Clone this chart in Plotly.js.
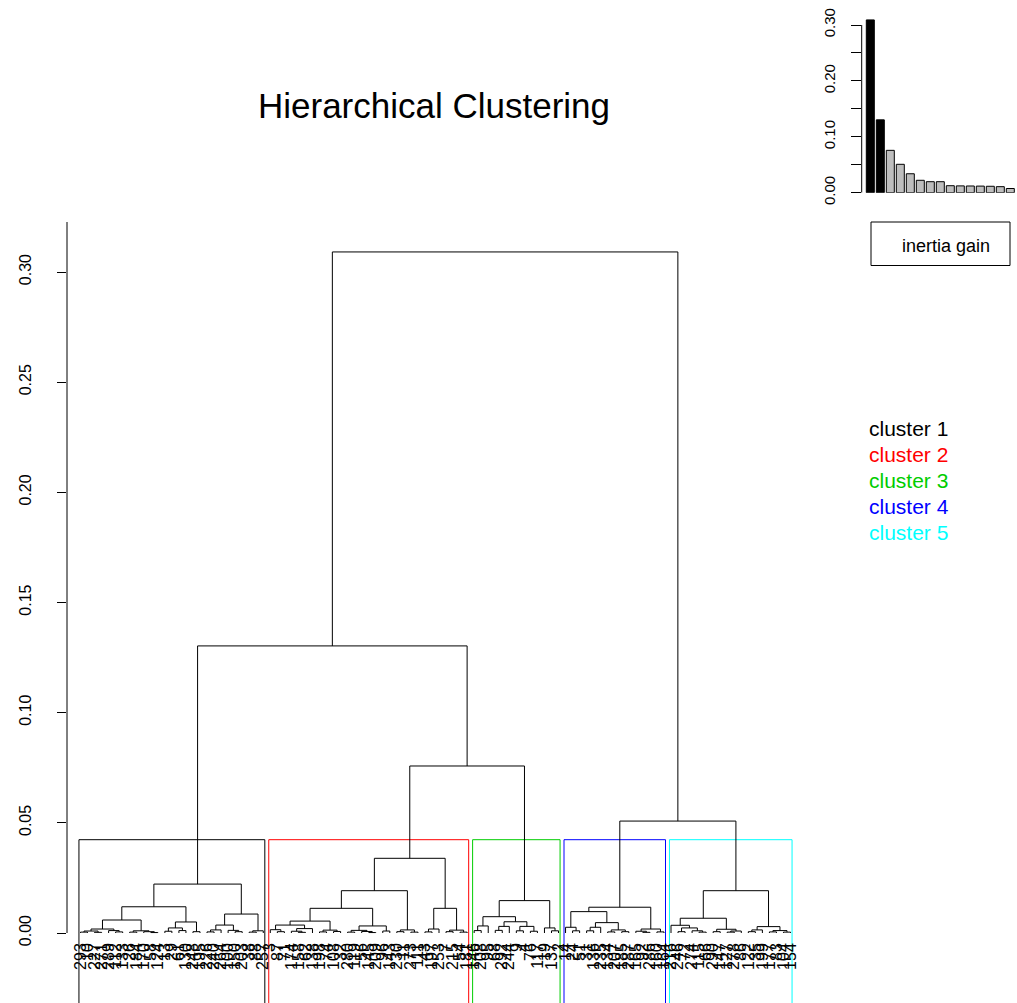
<!DOCTYPE html>
<html><head><meta charset="utf-8">
<script src="https://cdn.plot.ly/plotly-3.0.1.min.js"></script>
<style>html,body{margin:0;padding:0;background:#fff}</style>
</head><body><div id="chart" style="width:1017px;height:1003px"></div>
<script>
// ---------------- DATA ----------------
// node = [mergeHeight, leftChild, rightChild]; leaf = label string
const cluster1Tree = [0.0222,
  [0.0119,
    [0.0059,
      [0.0018, [0.0009, [0.0004,'293','10'], [0.0003,'227','271']], [0.0011,'289',[0.0005,'112','133']]],
      [0.0010, [0.0004,'26','184'], [0.0006,'170',[0.0002,'58','124']]]
    ],
    [0.0050,
      [0.0023, [0.0008,'13','29'], [0.0011,'61','130']],
      [0.0006,'248','195']
    ]
  ],
  [0.0086,
    [0.0036,
      [0.0014, [0.0005,'226','240'], '264'],
      [0.0012, '100', [0.0006,'150','203']]
    ],
    [0.0010, [0.0004,'38','88'], '257']
  ]
];
const cluster2Tree = [0.0339,
  [0.0192,
    [0.0112,
      [0.0054,
        [0.0036, [0.0015,'3',[0.0006,'87','71']], [0.0020,[0.0008,'174',[0.0003,'158','62']],'138']],
        [0.0013, [0.0005,'198','74'], [0.0007,'108','32']]
      ],
      [0.0032, [0.0012,[0.0004,'280','119'],[0.0007,'56',[0.0002,'145','209']]], [0.0009,'96','143']]
    ],
    [0.0014, [0.0006,'230','11'], [0.0004,'273','111']]
  ],
  [0.0112, [0.0018,[0.0005,'43','197'],'253'], [0.0013,[0.0006,'7','215'],[0.0004,'54','181']]]
];
const cluster3Tree = [0.0147,
  [0.0074,
    [0.0032, [0.0011,'146','208'], '95'],
    [0.0051,
      [0.0030, [0.0012,'68','292'], '244'],
      [0.0030, [0.0010,'9','4'], [0.0008,'76','117']]
    ]
  ],
  [0.0023, '19', [0.0010,'137','2']]
];
const cluster4Tree = [0.0117,
  [0.0097,
    [0.0026, '14', [0.0010,'24','51']],
    [0.0047,
      [0.0026, [0.0010,'31','136'], '235'],
      [0.0014, [0.0005,'134','207'], [0.0006,'185','287']]
    ]
  ],
  [0.0018, [0.0008,'165',[0.0003,'92','286']], [0.0005,'160','164']]
];
const cluster5Tree = [0.0192,
  [0.0067,
    [0.0035, '216', [0.0023,[0.0006,'246','72'],[0.0010,'274',[0.0004,'115','66']]]],
    [0.0017, [0.0006,'290','147'], [0.0009,[0.0004,'127','278'],'86']]
  ],
  [0.0029,
    [0.0014, [0.0006,'122','35'], '199'],
    [0.0011, [0.0005,'177','83'], [0.0004,'104','154']]
  ]
];
// upper part of the tree: numbers refer to the clusters (0..4)
const upperTree = [0.3091, [0.1303, 0, [0.0758, 1, 2]], [0.0508, 3, 4]];

const clusterNames  = ['cluster 1','cluster 2','cluster 3','cluster 4','cluster 5'];
const clusterColors = ['#000000','#FF0000','#00CD00','#0000FF','#00FFFF'];

const inertiaGain = [0.3091,0.1303,0.0758,0.0508,0.0339,0.0222,0.0197,0.0197,0.0125,0.0122,0.0120,0.0118,0.0115,0.0108,0.0075];
const nBlackBars = 2;

const yTickVals = [0,0.05,0.10,0.15,0.20,0.25,0.30];
const yTickText = ['0.00','0.05','0.10','0.15','0.20','0.25','0.30'];
const insetTickText = ['0.00','','0.10','','0.20','','0.30'];

// ---------------- BUILD DENDROGRAM ----------------
const clusterTrees = [cluster1Tree, cluster2Tree, cluster3Tree, cluster4Tree, cluster5Tree];
const leafLabels = [];
const segX = [], segY = [];
const clusterRange = [];
const allHeights = [];

function place(node) {
  if (typeof node === 'string') { leafLabels.push(node); return {x: leafLabels.length, h: 0}; }
  if (typeof node === 'number') {
    const first = leafLabels.length + 1;
    const r = place(clusterTrees[node]);
    clusterRange[node] = [first, leafLabels.length];
    return r;
  }
  const h = node[0];
  allHeights.push(h);
  const a = place(node[1]), b = place(node[2]);
  segX.push(a.x, a.x, b.x, b.x, null);
  segY.push(a.h, h, h, b.h, null);
  return {x: (a.x + b.x) / 2, h: h};
}
place(upperTree);
const N = leafLabels.length;
const k = clusterTrees.length;
const sortedH = allHeights.slice().sort((p, q) => q - p);
const cutHeight = (sortedH[k - 2] + sortedH[k - 1]) / 2;

// ---------------- GEOMETRY (pixels -> paper) ----------------
const W = 1017, H = 1003;
const px = v => v / W, py = v => 1 - v / H;
const axisX = 67, leaf1Px = 80.5, leafNPx = 790.5, plotRightPx = 800;
const unit = (leafNPx - leaf1Px) / (N - 1);
const xMin = 1 - (leaf1Px - axisX) / unit;
const xMax = N + (plotRightPx - leafNPx) / unit;
const zeroPx = 933, topPx = 222;
const yPerPx = 0.30 / (933 - 272);
const yMax = (zeroPx - topPx) * yPerPx;
const yMin = -(H - zeroPx) * yPerPx;

// inset
const insAxisPx = 861.7, insZeroPx = 192.7, ins30Px = 25.0;
const insYMax = 0.30 / (insZeroPx - ins30Px) * insZeroPx;
const insXMin = 1 - (870.3 - insAxisPx) / 10;
const insXMax = insXMin + (W - insAxisPx) / 10;

const font = 'Liberation Sans, Arial, sans-serif';

const traces = [
  {type:'scatter', mode:'lines', x: segX, y: segY, xaxis:'x', yaxis:'y',
   line:{color:'#000', width:1}, hoverinfo:'skip', cliponaxis:false},
  {type:'bar', x: inertiaGain.map((_, i) => i + 1), y: inertiaGain, xaxis:'x2', yaxis:'y2',
   width: 0.8,
   marker:{color: inertiaGain.map((_, i) => i < nBlackBars ? '#000000' : '#BEBEBE'),
           line:{color:'#000', width:1}}, hoverinfo:'skip'}
];

const shapes = [];
clusterRange.forEach((r, i) => {
  shapes.push({type:'rect', xref:'x', yref:'y', x0: r[0] - 0.22, x1: r[1] + 0.22,
    y0: yMin - 0.01, y1: cutHeight, line:{color: clusterColors[i], width:1}, layer:'below'});
});
shapes.push({type:'line', xref:'paper', yref:'y', x0: px(axisX), x1: px(axisX), y0: 0, y1: yMax,
  line:{color:'#000', width:1}});
shapes.push({type:'line', xref:'paper', yref:'y2', x0: px(insAxisPx), x1: px(insAxisPx), y0: 0, y1: 0.30,
  line:{color:'#000', width:1}});
shapes.push({type:'rect', xref:'paper', yref:'paper', x0: px(871), x1: px(1010), y0: py(265.5), y1: py(222),
  line:{color:'#000', width:1}});

const annotations = [
  {text:'inertia gain', xref:'paper', yref:'paper', x: px(946), y: py(246), xanchor:'center', yanchor:'middle',
   showarrow:false, font:{family:font, size:18, color:'#000'}}
];
clusterNames.forEach((n, i) => {
  annotations.push({text: n, xref:'paper', yref:'paper', x: px(867), y: py(428 + 26 * i),
    xanchor:'left', yanchor:'middle', showarrow:false, font:{family:font, size:21, color: clusterColors[i]}});
});

const layout = {
  width: W, height: H, margin:{l:0, r:0, t:0, b:0},
  paper_bgcolor:'#fff', plot_bgcolor:'rgba(0,0,0,0)', showlegend:false,
  title:{text:'Hierarchical Clustering', x: px(434), y: py(106), xref:'paper', yref:'paper',
         xanchor:'center', yanchor:'middle', font:{family:font, size:35, color:'#000'}},
  font:{family:font, color:'#000'},
  xaxis:{domain:[px(axisX), px(plotRightPx)], range:[xMin, xMax], anchor:'free', position: py(zeroPx + 6),
         tickmode:'array', tickvals: leafLabels.map((_, i) => i + 1), ticktext: leafLabels,
         tickangle:-90, ticks:'', showline:false, showgrid:false, zeroline:false,
         tickfont:{family:font, size:16, color:'#000'}},
  yaxis:{domain:[0, py(topPx)], range:[yMin, yMax], anchor:'x',
         tickmode:'array', tickvals: yTickVals, ticktext: yTickText, tickangle:-90,
         ticks:'outside', ticklen:9, tickcolor:'#000', tickwidth:1,
         showline:false, showgrid:false, zeroline:false, ticklabelstandoff: 20,
         tickfont:{family:font, size:16, color:'#000'}},
  xaxis2:{domain:[px(insAxisPx), 1], range:[insXMin, insXMax], anchor:'y2', visible:false},
  yaxis2:{domain:[py(insZeroPx), 1], range:[0, insYMax], anchor:'x2',
          tickmode:'array', tickvals: yTickVals, ticktext: insetTickText, tickangle:-90,
          ticks:'outside', ticklen:10, tickcolor:'#000', tickwidth:1,
          showline:false, showgrid:false, zeroline:false, ticklabelstandoff: 10,
          tickfont:{family:font, size:15, color:'#000'}},
  bargap: 0.2,
  shapes: shapes,
  annotations: annotations
};

Plotly.newPlot('chart', traces, layout, {staticPlot:true, displayModeBar:false});
</script>
</body></html>
